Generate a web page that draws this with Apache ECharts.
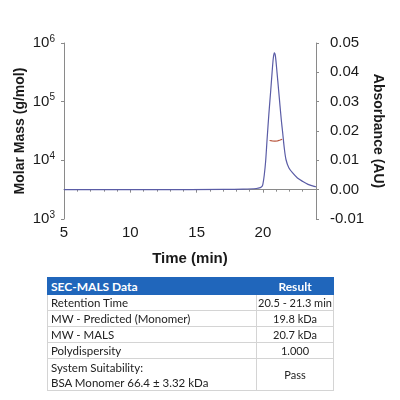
<!DOCTYPE html>
<html>
<head>
<meta charset="utf-8">
<script src="https://cdn.jsdelivr.net/npm/echarts@6/dist/echarts.min.js"></script>
<style>
  html, body { margin: 0; padding: 0; background: #fff; }
  #chart { width: 400px; height: 400px; }
  #tbl {
    position: absolute; left: 47px; top: 277px; width: 286px;
    border-collapse: collapse; table-layout: fixed;
    font-family: Lato, "Open Sans", sans-serif; font-size: 11.5px; color: #222;
  }
  #tbl td {
    border: 1px solid #d4d4d4; padding: 0 0 0 3px; height: 16px; line-height: 13px;
    white-space: nowrap; overflow: hidden; box-sizing: border-box;
  }
  #tbl td.v { text-align: center; padding: 0; font-size: 11px; }
  #tbl tr.h td { background: #2066bb; color: #fff; font-weight: bold; border-color: #2066bb; height: 17px; font-size: 12px; }
  #tbl tr.last td { height: 32px; line-height: 15px; }
</style>
</head>
<body>
<div id="chart"></div>
<table id="tbl"><colgroup><col style="width:209px"><col style="width:77px"></colgroup><tbody id="tb"></tbody></table>
<script>
// 吸光度 (AU) 随时间
const uvTrace = [
  [5, 0], [12, 0], [17, 0.0001], [18.5, 0.0002], [19.5, 0.0004], [19.8, 0.0007],
  [19.93, 0.0011], [20.0, 0.002], [20.1, 0.005], [20.2, 0.0095], [20.31, 0.017],
  [20.45, 0.026], [20.59, 0.034], [20.69, 0.040], [20.78, 0.0448], [20.86, 0.0466],
  [20.94, 0.0455], [21.06, 0.040], [21.18, 0.034], [21.29, 0.0284], [21.39, 0.0235],
  [21.49, 0.0193], [21.6, 0.0145], [21.74, 0.0102], [21.95, 0.0075], [22.24, 0.0057],
  [22.6, 0.0040], [23.0, 0.0028], [23.4, 0.0018], [23.88, 0.0011], [24, 0.0010]
]
// 分子量 (g/mol)
const massTrace = [
  [20.5, 21800], [20.6, 21600], [20.7, 21500], [20.8, 21700], [20.9, 21300],
  [21.0, 21200], [21.1, 21500], [21.2, 21800], [21.3, 22200], [21.45, 22900]
]
// 表格
const tableHead = ['SEC-MALS Data', 'Result']
const tableRows = [
  ['Retention Time', '20.5 - 21.3 min'],
  ['MW - Predicted (Monomer)', '19.8 kDa'],
  ['MW - MALS', '20.7 kDa'],
  ['Polydispersity', '1.000'],
  ['System Suitability:<br>BSA Monomer 66.4 ± 3.32 kDa', 'Pass']
]

let html = '<tr class="h"><td>' + tableHead[0] + '</td><td class="v">' + tableHead[1] + '</td></tr>'
tableRows.forEach((r, i) => {
  const cls = i === tableRows.length - 1 ? ' class="last"' : ''
  html += '<tr' + cls + '><td>' + r[0] + '</td><td class="v">' + r[1] + '</td></tr>'
})
document.getElementById('tb').innerHTML = html

const font = '"Liberation Sans", Arial, sans-serif'
const axisLine = { show: true, lineStyle: { color: '#8a8a8a', width: 1 } }
const tick = { show: true, length: 3, lineStyle: { color: '#8a8a8a' } }

let myChart = echarts.init(document.getElementById('chart'))
const option = {
  animation: false,
  grid: { left: 64, right: 84, top: 43, bottom: 181, containLabel: false, outerBoundsMode: 'none' },
  xAxis: {
    type: 'value', min: 5, max: 24, interval: 5,
    name: 'Time (min)', nameLocation: 'middle', nameGap: 32, nameMoveOverlap: false,
    nameTextStyle: { fontFamily: font, fontSize: 15, fontWeight: 'bold', color: '#1a1a1a' },
    axisLine: axisLine, axisTick: tick,
    minorTick: { show: true, splitNumber: 5, length: 2, lineStyle: { color: '#8a8a8a' } },
    splitLine: { show: false },
    axisLabel: { fontFamily: font, fontSize: 15, color: '#1a1a1a', margin: 6, showMaxLabel: false }
  },
  yAxis: [
    {
      type: 'log', logBase: 10, min: 1000, max: 1000000,
      name: 'Molar Mass (g/mol)', nameLocation: 'middle', nameGap: 37, nameMoveOverlap: false,
      nameTextStyle: { fontFamily: font, fontSize: 14, fontWeight: 'bold', color: '#1a1a1a' },
      axisLine: axisLine, axisTick: tick, splitLine: { show: false },
      axisLabel: {
        margin: 9,
        formatter: (v) => '{b|10}{s|' + Math.round(Math.log10(v)) + '}',
        rich: {
          b: { fontFamily: font, fontSize: 15, color: '#1a1a1a' },
          s: { fontFamily: font, fontSize: 10, color: '#1a1a1a', padding: [0, 0, 8, 0] }
        }
      }
    },
    {
      type: 'value', min: -0.01, max: 0.05, interval: 0.01, position: 'right',
      name: 'Absorbance (AU)', nameLocation: 'middle', nameGap: 55, nameRotate: -90, nameMoveOverlap: false,
      nameTextStyle: { fontFamily: font, fontSize: 14, fontWeight: 'bold', color: '#1a1a1a' },
      axisLine: axisLine, axisTick: tick, splitLine: { show: false },
      axisLabel: {
        fontFamily: font, fontSize: 15, color: '#1a1a1a', margin: 14,
        formatter: (v) => v.toFixed(2)
      }
    }
  ],
  series: [
    {
      name: 'UV', type: 'line', yAxisIndex: 1, data: uvTrace,
      showSymbol: false, smooth: 0.3, lineStyle: { color: '#5a5ca6', width: 1.2 }
    },
    {
      name: 'MALS', type: 'line', yAxisIndex: 0, data: massTrace,
      showSymbol: false, lineStyle: { color: '#b8553c', width: 1.2 }
    }
  ]
}
myChart.setOption(option)
</script>
</body>
</html>
